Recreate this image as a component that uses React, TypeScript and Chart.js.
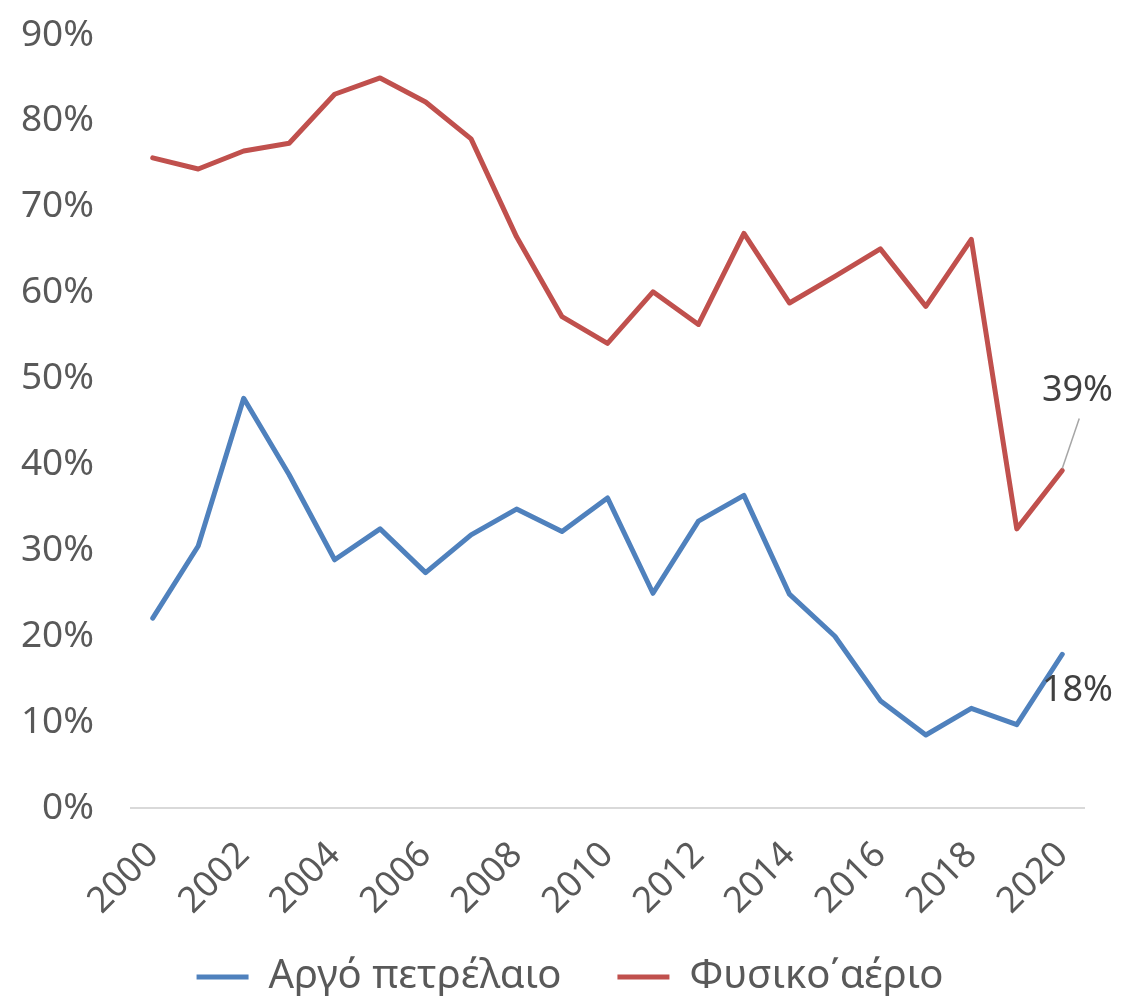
import React, { useEffect, useRef } from "react";
import { Chart, registerables } from "chart.js";

Chart.register(...registerables);

const years = [
  "2000", "2001", "2002", "2003", "2004", "2005", "2006", "2007", "2008", "2009", "2010",
  "2011", "2012", "2013", "2014", "2015", "2016", "2017", "2018", "2019", "2020",
];

const crudeOil = [
  22.1, 30.5, 47.7, 38.8, 28.9, 32.5, 27.4, 31.8, 34.8, 32.2, 36.1,
  25.0, 33.4, 36.4, 24.9, 20.0, 12.5, 8.5, 11.6, 9.7, 17.9,
];

const naturalGas = [
  75.7, 74.4, 76.5, 77.4, 83.1, 85.0, 82.2, 77.9, 66.5, 57.2, 54.1,
  60.1, 56.3, 66.9, 58.8, 61.9, 65.1, 58.4, 66.2, 32.5, 39.3,
];

const seriesNames = ["Αργό πετρέλαιο", "Φυσικο΄αέριο"];
const endLabels = ["18%", "39%"];
const yTicks = { min: 0, max: 90, step: 10 };

const FONT = "'Noto Sans', 'Open Sans', sans-serif";
const BLUE = "#4F81BD";
const RED = "#C0504D";

const endLabelPlugin = {
  id: "endLabels",
  afterDatasetsDraw(chart: any) {
    const ctx = chart.ctx;
    ctx.save();
    ctx.font = `36px ${FONT}`;
    ctx.fillStyle = "#404040";
    ctx.textBaseline = "middle";
    ctx.textAlign = "right";
    const right = chart.width - 1;
    const m0 = chart.getDatasetMeta(0);
    const p0 = m0.data[m0.data.length - 1];
    ctx.fillText(endLabels[0], right, p0.y + 36);
    const m1 = chart.getDatasetMeta(1);
    const p1 = m1.data[m1.data.length - 1];
    ctx.strokeStyle = "#A6A6A6";
    ctx.lineWidth = 1.5;
    ctx.beginPath();
    ctx.moveTo(p1.x, p1.y - 2);
    ctx.lineTo(p1.x + 17, p1.y - 52);
    ctx.stroke();
    ctx.fillText(endLabels[1], right, p1.y - 80);
    ctx.restore();
  },
};

const noPad = (s: any) => {
  s.paddingTop = 0;
  s.paddingBottom = 0;
  s.paddingLeft = 0;
  s.paddingRight = 0;
  s._computeLabelArea = () => undefined;
};

export default function App() {
  const ref = useRef<HTMLCanvasElement | null>(null);

  useEffect(() => {
    if (!ref.current) return;
    const chart = new Chart(ref.current, {
      type: "line",
      data: {
        labels: years,
        datasets: [
          {
            label: seriesNames[0],
            data: crudeOil,
            borderColor: BLUE,
            backgroundColor: BLUE,
            borderWidth: 5,
            pointRadius: 0,
            borderJoinStyle: "round",
            borderCapStyle: "round",
            tension: 0,
          },
          {
            label: seriesNames[1],
            data: naturalGas,
            borderColor: RED,
            backgroundColor: RED,
            borderWidth: 5,
            pointRadius: 0,
            borderJoinStyle: "round",
            borderCapStyle: "round",
            tension: 0,
          },
        ],
      },
      options: {
        animation: false,
        responsive: true,
        maintainAspectRatio: false,
        layout: { autoPadding: false, padding: { left: 18, right: 0, top: 27, bottom: -11 } },
        plugins: {
          tooltip: { enabled: false },
          legend: {
            position: "bottom",
            labels: {
              font: { family: FONT, size: 40 },
              color: "#595959",
              boxWidth: 52,
              boxHeight: 5,
              padding: 56,
              generateLabels: (c: any) =>
                c.data.datasets.map((d: any, i: number) => ({
                  text: d.label,
                  fillStyle: d.borderColor,
                  strokeStyle: d.borderColor,
                  lineWidth: 0,
                  fontColor: "#595959",
                  datasetIndex: i,
                  hidden: false,
                })),
            },
          },
        },
        scales: {
          x: {
            type: "category",
            offset: true,
            grid: { display: false },
            border: { display: false },
            ticks: {
              autoSkip: false,
              maxRotation: 45,
              minRotation: 45,
              padding: 18,
              color: "#595959",
              font: { family: FONT, size: 36 },
              callback: (_v: any, i: number) => (i % 2 === 0 ? years[i] : ""),
            },
            afterFit: (s: any) => {
              s.height = 93;
              noPad(s);
            },
          },
          y: {
            min: yTicks.min,
            max: yTicks.max,
            border: { display: false },
            grid: {
              drawTicks: false,
              lineWidth: 2,
              color: (c: any) => (c.tick && c.tick.value === 0 ? "#D9D9D9" : "rgba(0,0,0,0)"),
            },
            ticks: {
              stepSize: yTicks.step,
              padding: 36,
              color: "#595959",
              font: { family: FONT, size: 37 },
              callback: (v: any) => `${v}%`,
            },
            afterFit: (s: any) => {
              s.width = 104;
              noPad(s);
            },
          },
          y2: {
            position: "right",
            display: true,
            grid: { display: false },
            border: { display: false },
            ticks: { display: false },
            afterFit: (s: any) => {
              s.width = 29;
              noPad(s);
            },
          },
        },
      },
      plugins: [endLabelPlugin],
    });
    return () => chart.destroy();
  }, []);

  return (
    <div style={{ width: 1106, height: 988 }}>
      <canvas ref={ref} />
    </div>
  );
}
